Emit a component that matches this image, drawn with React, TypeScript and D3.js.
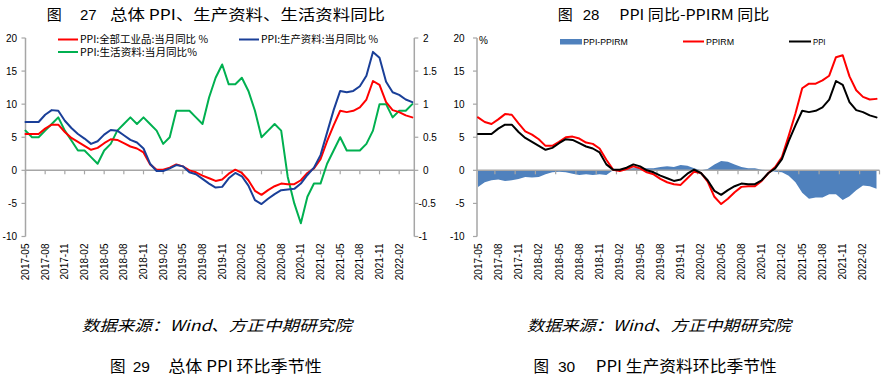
import React from 'react';
import * as d3 from 'd3';

const months = [
  '2017-05','2017-06','2017-07','2017-08','2017-09','2017-10','2017-11','2017-12',
  '2018-01','2018-02','2018-03','2018-04','2018-05','2018-06','2018-07','2018-08','2018-09','2018-10','2018-11','2018-12',
  '2019-01','2019-02','2019-03','2019-04','2019-05','2019-06','2019-07','2019-08','2019-09','2019-10','2019-11','2019-12',
  '2020-01','2020-02','2020-03','2020-04','2020-05','2020-06','2020-07','2020-08','2020-09','2020-10','2020-11','2020-12',
  '2021-01','2021-02','2021-03','2021-04','2021-05','2021-06','2021-07','2021-08','2021-09','2021-10','2021-11','2021-12',
  '2022-01','2022-02','2022-03','2022-04'
];

const xTickLabels = [
  '2017-05','2017-08','2017-11','2018-02','2018-05','2018-08','2018-11','2019-02','2019-05','2019-08',
  '2019-11','2020-02','2020-05','2020-08','2020-11','2021-02','2021-05','2021-08','2021-11','2022-02'
];

// PPI: 全部工业品 (also "PPI" in chart 28)
const ppiAll = [
  5.5,5.5,5.5,6.3,6.9,6.9,5.8,4.9,
  4.3,3.7,3.1,3.4,4.1,4.7,4.6,4.1,3.6,3.3,2.7,0.9,
  0.1,0.1,0.4,0.9,0.6,0.0,-0.3,-0.8,-1.2,-1.6,-1.4,-0.5,
  0.1,-0.4,-1.5,-3.1,-3.7,-3.0,-2.4,-2.0,-2.1,-2.1,-1.5,-0.4,
  0.3,1.7,4.4,6.8,9.0,8.8,9.0,9.5,10.7,13.5,12.9,10.3,
  9.1,8.8,8.3,8.0
];

// PPI: 生产资料
const ppiProducer = [
  7.3,7.3,7.3,8.4,9.1,9.0,7.5,6.4,
  5.5,4.8,4.0,4.4,5.4,6.1,6.0,5.3,4.6,4.2,3.3,1.0,
  -0.1,-0.1,0.3,0.8,0.6,-0.3,-0.6,-1.3,-2.0,-2.6,-2.5,-1.2,
  -0.4,-0.9,-2.3,-4.5,-5.1,-4.3,-3.6,-3.0,-2.9,-2.8,-2.0,-0.7,
  0.4,2.3,5.7,9.1,12.0,11.8,12.0,12.7,14.3,17.9,17.0,13.4,
  11.8,11.4,10.7,10.3
];

// PPI: 生活资料 (right axis)
const ppiConsumer = [
  0.6,0.5,0.5,0.6,0.7,0.8,0.6,0.45,
  0.3,0.3,0.2,0.1,0.3,0.4,0.6,0.7,0.8,0.7,0.8,0.7,
  0.6,0.4,0.5,0.9,0.9,0.9,0.8,0.7,1.1,1.4,1.6,1.3,
  1.3,1.4,1.2,0.9,0.5,0.6,0.7,0.6,-0.1,-0.5,-0.8,-0.4,
  -0.2,-0.2,0.1,0.3,0.5,0.3,0.3,0.3,0.4,0.6,1.0,1.0,
  0.8,0.9,0.9,1.0
];

// PPIRM
const ppirm = [
  8.0,7.3,7.0,7.7,8.5,8.4,7.1,5.9,
  5.4,4.7,3.7,3.7,4.3,5.0,5.1,4.8,4.2,4.0,3.3,1.6,
  0.1,-0.1,0.2,0.6,0.3,-0.3,-0.6,-1.3,-1.8,-2.1,-2.2,-1.2,
  -0.2,-0.4,-1.7,-4.0,-5.1,-4.3,-3.3,-2.5,-2.4,-2.4,-1.6,-0.4,
  0.5,2.0,5.2,8.6,12.4,13.1,13.1,13.6,14.3,17.1,17.4,14.2,
  12.1,11.1,10.7,10.8
];

// PPI-PPIRM
const ppiMinusPpirm = [
  -2.5,-1.8,-1.5,-1.4,-1.6,-1.5,-1.3,-1.0,
  -1.1,-1.0,-0.6,-0.3,-0.2,-0.3,-0.5,-0.7,-0.6,-0.7,-0.6,-0.7,
  0.0,0.2,0.2,0.3,0.3,0.3,0.3,0.5,0.6,0.5,0.8,0.7,
  0.3,0.0,0.2,0.9,1.4,1.3,0.9,0.5,0.3,0.3,0.1,0.0,
  -0.2,-0.3,-0.8,-1.8,-3.4,-4.3,-4.1,-4.1,-3.6,-3.6,-4.5,-3.9,
  -3.0,-2.3,-2.4,-2.8
];

const leftTicks = [20, 15, 10, 5, 0, -5, -10];
const rightTicks = [2, 1.5, 1, 0.5, 0, -0.5, -1];

const NUM = "'Liberation Sans', Arial, sans-serif";
const CJK = "'Noto Sans CJK SC', 'Noto Sans', sans-serif";
const AXIS = '#A6A6A6';
const RED = '#FF0000';
const BLUE = '#1A3F98';
const GREEN = '#00B050';
const AREA = '#4F81BD';

export default function App() {
  const yTop = 38;
  const yBot = 236.5;
  const n = months.length;

  const xL = d3.scaleLinear().domain([0, n - 1]).range([25.5, 412.3]);
  const xR = d3.scaleLinear().domain([0, n - 1]).range([478, 876.5]);
  const yL = d3.scaleLinear().domain([-10, 20]).range([yBot, yTop]);
  const yRaxis = d3.scaleLinear().domain([-1, 2]).range([yBot, yTop]);

  const mkLine = (x: any, y: any, data: number[]) =>
    d3.line<number>().x((_, i) => x(i)).y((d) => y(d))(data) || '';

  const areaPath =
    d3.area<number>().x((_, i) => xR(i)).y0(yL(0)).y1((d) => yL(d))(ppiMinusPpirm) || '';

  const tickIdx = xTickLabels.map((l) => months.indexOf(l));
  const stepR = xR(1) - xR(0);

  const lineStyle = { fill: 'none', strokeWidth: 2, strokeLinejoin: 'round' as const, strokeLinecap: 'round' as const };

  return (
    <svg width={892} height={383} style={{ position: 'absolute', left: 0, top: 0, background: '#fff' }}>
      <rect x={0} y={0} width={892} height={383} fill="#fff" />

      {/* Titles */}
      <g fontFamily={CJK} fontSize={15} fill="#000">
        <text x={46.7} y={19.5}>图</text>
        <text x={80} y={19.5} fontFamily={NUM}>27</text>
        <text x={110} y={19.5} textLength={275} lengthAdjust="spacingAndGlyphs">总体 PPI、生产资料、生活资料同比</text>
        <text x={557.7} y={19.5}>图</text>
        <text x={582.7} y={19.5} fontFamily={NUM}>28</text>
        <text x={619.3} y={19.5} textLength={150} lengthAdjust="spacingAndGlyphs">PPI 同比-PPIRM 同比</text>
      </g>

      {/* ---------- Left chart ---------- */}
      <g>
        {/* left axis */}
        <line x1={xL(0)} x2={xL(0)} y1={yTop} y2={yBot} stroke={AXIS} strokeWidth={1.5} />
        {leftTicks.map((t) => (
          <g key={'lt' + t}>
            <line x1={xL(0) - 4} x2={xL(0)} y1={yL(t)} y2={yL(t)} stroke={AXIS} strokeWidth={1.2} />
            <text x={17} y={yL(t)} textAnchor="end" dominantBaseline="central" fontFamily={NUM} fontSize={10}>{t}</text>
          </g>
        ))}
        {/* right axis */}
        <line x1={414.3} x2={414.3} y1={yTop} y2={yBot} stroke={AXIS} strokeWidth={1.5} />
        {rightTicks.map((t) => (
          <g key={'rt' + t}>
            <line x1={414.3} x2={418.3} y1={yRaxis(t)} y2={yRaxis(t)} stroke={AXIS} strokeWidth={1.2} />
            <text x={t < 0 ? 418.5 : 423} y={yRaxis(t)} dominantBaseline="central" fontFamily={NUM} fontSize={10}>{t}</text>
          </g>
        ))}
        {/* zero line */}
        <line x1={xL(0)} x2={414.3} y1={yL(0)} y2={yL(0)} stroke={AXIS} strokeWidth={1.5} />
        {tickIdx.map((i) => (
          <line key={'xt' + i} x1={xL(i)} x2={xL(i)} y1={yL(0)} y2={yL(0) + 4} stroke={AXIS} strokeWidth={1.2} />
        ))}
        {xTickLabels.map((l, k) => (
          <text key={'xl' + l} transform={`translate(${xL(tickIdx[k])},243.5) rotate(-90)`} textAnchor="end"
            dominantBaseline="central" fontFamily={NUM} fontSize={10}>{l}</text>
        ))}

        <path d={mkLine(xL, yRaxis, ppiConsumer)} stroke={GREEN} {...lineStyle} />
        <path d={mkLine(xL, yL, ppiAll)} stroke={RED} {...lineStyle} />
        <path d={mkLine(xL, yL, ppiProducer)} stroke={BLUE} {...lineStyle} />

        {/* legend */}
        <line x1={58} x2={78} y1={39.5} y2={39.5} stroke={RED} strokeWidth={2} />
        <text x={80} y={43.3} fontFamily={CJK} fontSize={10.5} textLength={128} lengthAdjust="spacingAndGlyphs">PPI:全部工业品:当月同比 %</text>
        <line x1={239} x2={259} y1={39.5} y2={39.5} stroke={BLUE} strokeWidth={2} />
        <text x={261} y={43.3} fontFamily={CJK} fontSize={10.5} textLength={117} lengthAdjust="spacingAndGlyphs">PPI:生产资料:当月同比 %</text>
        <line x1={58} x2={78} y1={52} y2={52} stroke={GREEN} strokeWidth={2} />
        <text x={80} y={55.8} fontFamily={CJK} fontSize={10.5} textLength={117} lengthAdjust="spacingAndGlyphs">PPI:生活资料:当月同比%</text>
      </g>

      {/* ---------- Right chart ---------- */}
      <g>
        <path d={areaPath} fill={AREA} stroke="none" />
        <line x1={477} x2={477} y1={yTop} y2={yBot} stroke={AXIS} strokeWidth={1.5} />
        {leftTicks.map((t) => (
          <g key={'rlt' + t}>
            <line x1={473} x2={477} y1={yL(t)} y2={yL(t)} stroke={AXIS} strokeWidth={1.2} />
            <text x={464.5} y={yL(t)} textAnchor="end" dominantBaseline="central" fontFamily={NUM} fontSize={10}>{t}</text>
          </g>
        ))}
        <text x={479} y={43.5} fontFamily={NUM} fontSize={10}>%</text>
        <line x1={477} x2={879.5} y1={yL(0)} y2={yL(0)} stroke={AXIS} strokeWidth={1.5} />
        {tickIdx.filter((i) => i > 0).map((i) => (
          <line key={'rxt' + i} x1={xR(i) - stepR / 2} x2={xR(i) - stepR / 2} y1={yL(0)} y2={yL(0) + 4} stroke={AXIS} strokeWidth={1.2} />
        ))}
        <line x1={879.5} x2={879.5} y1={yL(0)} y2={yL(0) + 4} stroke={AXIS} strokeWidth={1.2} />
        {xTickLabels.map((l, k) => (
          <text key={'rxl' + l} transform={`translate(${xR(tickIdx[k])},243.5) rotate(-90)`} textAnchor="end"
            dominantBaseline="central" fontFamily={NUM} fontSize={10}>{l}</text>
        ))}

        <path d={mkLine(xR, yL, ppirm)} stroke={RED} {...lineStyle} />
        <path d={mkLine(xR, yL, ppiAll)} stroke="#000" {...lineStyle} />

        {/* legend */}
        <rect x={560} y={39} width={22} height={5.5} fill={AREA} />
        <text x={583.3} y={44.5} fontFamily={NUM} fontSize={9.5} textLength={44.5} lengthAdjust="spacingAndGlyphs">PPI-PPIRM</text>
        <line x1={683} x2={704} y1={41.5} y2={41.5} stroke={RED} strokeWidth={2} />
        <text x={706} y={44.5} fontFamily={NUM} fontSize={9.5} textLength={28} lengthAdjust="spacingAndGlyphs">PPIRM</text>
        <line x1={789} x2={811} y1={41.5} y2={41.5} stroke="#000" strokeWidth={2} />
        <text x={813} y={44.5} fontFamily={NUM} fontSize={9.5} textLength={12.5} lengthAdjust="spacingAndGlyphs">PPI</text>
      </g>

      {/* Source lines */}
      <g fontFamily={CJK} fontSize={15} fontStyle="italic" fill="#000">
        <text x={81.7} y={331} textLength={270} lengthAdjust="spacingAndGlyphs">数据来源：Wind、方正中期研究院</text>
        <text x={527} y={331} textLength={264} lengthAdjust="spacingAndGlyphs">数据来源：Wind、方正中期研究院</text>
      </g>

      {/* Bottom titles */}
      <g fontFamily={CJK} fontSize={15.5} fill="#000">
        <text x={110} y={372}>图</text>
        <text x={132.7} y={372} fontFamily={NUM}>29</text>
        <text x={168.3} y={372} textLength={153.4} lengthAdjust="spacingAndGlyphs">总体 PPI 环比季节性</text>
        <text x={533.5} y={372}>图</text>
        <text x={558} y={372} fontFamily={NUM}>30</text>
        <text x={595.8} y={372} textLength={181} lengthAdjust="spacingAndGlyphs">PPI 生产资料环比季节性</text>
      </g>
    </svg>
  );
}
